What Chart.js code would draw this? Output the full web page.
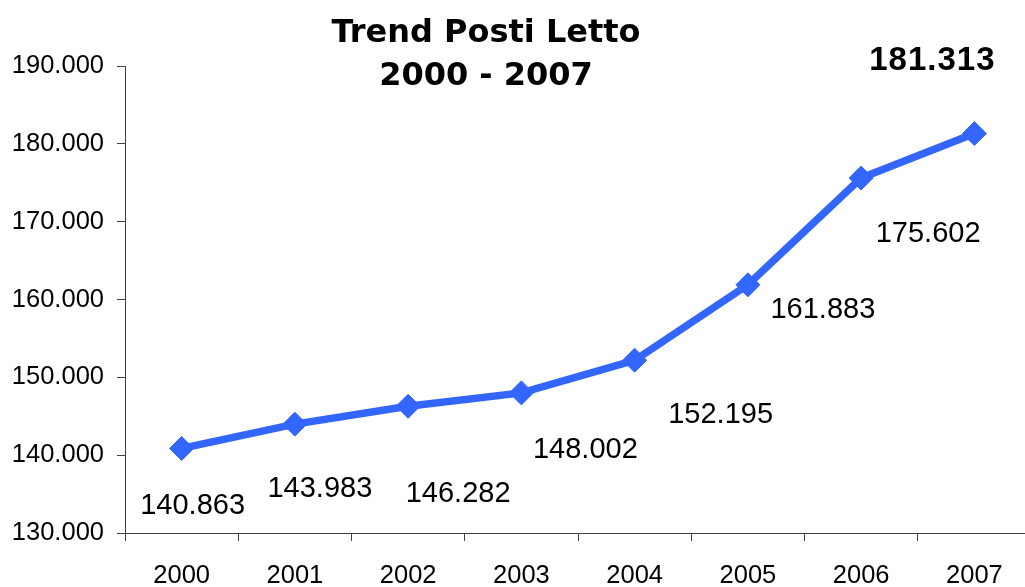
<!DOCTYPE html>
<html>
<head>
<meta charset="utf-8">
<script src="https://cdn.jsdelivr.net/npm/chart.js@4/dist/chart.umd.min.js"></script>
<style>
  html, body { margin: 0; padding: 0; background: #fff; overflow: hidden; }
  #wrap { width: 1044px; height: 587px; position: relative; }
</style>
</head>
<body>
<div id="wrap"><canvas id="c"></canvas></div>
<script>
// ---- data ----
const years = ['2000', '2001', '2002', '2003', '2004', '2005', '2006', '2007'];
const postiLetto = [140863, 143983, 146282, 148002, 152195, 161883, 175602, 181313];
const titleLines = ['Trend Posti Letto', '2000 - 2007'];
const yMin = 130000, yMax = 190000, yStep = 10000;

// ---- label styling (offsets of each value label from its point, in px) ----
const labelOffsets = [[11, 55], [25, 62], [50, 85], [64, 55], [86, 52], [75, 23], [67, 54], [-42, -75]];
const labelBold = [false, false, false, false, false, false, false, true];

const FONT = '"Liberation Sans", Arial, sans-serif';
const TITLE_FONT = '"DejaVu Sans", Verdana, sans-serif';
const fmt = v => Math.round(v).toString().replace(/\B(?=(\d{3})+(?!\d))/g, '.');

const overlay = {
  id: 'overlay',
  afterDatasetsDraw(chart) {
    const ctx = chart.ctx;
    const meta = chart.getDatasetMeta(0);
    ctx.save();
    ctx.fillStyle = '#000';
    ctx.textAlign = 'center';
    ctx.textBaseline = 'alphabetic';
    meta.data.forEach((pt, i) => {
      const bold = labelBold[i];
      const size = bold ? 33 : 29;
      ctx.font = (bold ? 'bold ' : '') + size + 'px ' + FONT;
      ctx.letterSpacing = bold ? '1px' : '0px';
      const [dx, dy] = labelOffsets[i];
      ctx.fillText(fmt(postiLetto[i]), pt.x + dx, pt.y + dy + size * 0.358);
    });
    ctx.letterSpacing = '0px';
    // title
    ctx.font = 'bold 32px ' + TITLE_FONT;
    ctx.fillText(titleLines[0], 486, 42);
    ctx.fillText(titleLines[1], 486, 85);
    ctx.restore();
  }
};

new Chart(document.getElementById('c'), {
  type: 'line',
  data: {
    labels: years,
    datasets: [{
      data: postiLetto,
      borderColor: '#3366FF',
      backgroundColor: '#3366FF',
      borderWidth: 7.5,
      pointStyle: 'rectRot',
      pointRadius: 12,
      pointBorderWidth: 1,
      pointBackgroundColor: '#3366FF',
      pointBorderColor: '#3366FF',
      tension: 0,
      fill: false
    }]
  },
  options: {
    responsive: true,
    maintainAspectRatio: false,
    animation: false,
    layout: { padding: { top: 66, right: 0, bottom: 0, left: 0 } },
    plugins: { legend: { display: false }, title: { display: false }, tooltip: { enabled: false } },
    scales: {
      x: {
        offset: true,
        grid: { offset: true, drawOnChartArea: false, drawTicks: true, tickLength: 8, color: '#404040' },
        border: { display: true, color: '#404040', width: 1 },
        ticks: { color: '#000', font: { family: FONT, size: 25.5 }, padding: 20, maxRotation: 0, autoSkip: false },
        afterFit: s => { s.height = 54; }
      },
      y: {
        min: yMin, max: yMax,
        grid: { drawOnChartArea: false, drawTicks: true, tickLength: 8, color: '#404040' },
        border: { display: true, color: '#404040', width: 1 },
        ticks: { stepSize: yStep, color: '#000', font: { family: FONT, size: 25.5 }, padding: 13, callback: v => fmt(v) },
        afterFit: s => { s.width = 125; }
      }
    }
  },
  plugins: [overlay]
});
</script>
</body>
</html>
